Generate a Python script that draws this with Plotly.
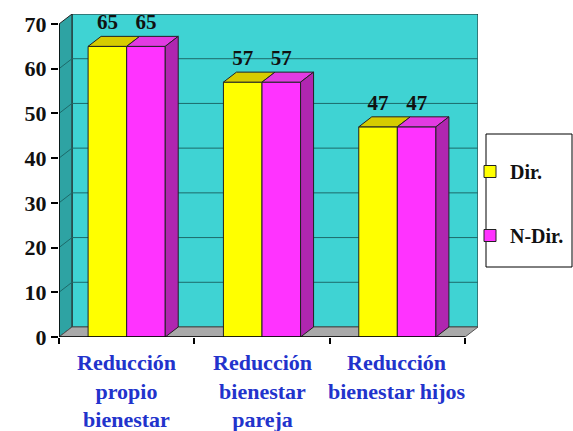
import plotly.graph_objects as go

# ---- data -------------------------------------------------------------
categories = [
    "Reducción<br>propio<br>bienestar",
    "Reducción<br>bienestar<br>pareja",
    "Reducción<br>bienestar hijos",
]
dir_values = [65, 57, 47]
ndir_values = [65, 57, 47]
y_ticks = [0, 10, 20, 30, 40, 50, 60, 70]

# ---- style ------------------------------------------------------------
SERIF = "Liberation Serif"
YELLOW, YELLOW_TOP = "#ffff00", "#d6cc00"
MAGENTA, MAGENTA_TOP, MAGENTA_SIDE = "#ff33ff", "#e23be2", "#b026b0"
WALL_BACK, WALL_SIDE, FLOOR = "#3fd3d3", "#2ea3a3", "#a9a9a9"
GRID = "#1d6a6a"
EDGE = "#222222"

BAR_W = 0.285          # width of each bar in category units
DX, DY = 0.096, 2.236  # depth offset of the 3-D box (x units, y units)
Y_MAX = max(y_ticks)

# pixel geometry of the plotting box
W, H = 573, 431
L, R, T, B = 59, 95, 14, 94
dom_w, dom_h = W - L - R, H - T - B


def px_x(p):
    return (p - L) / dom_w


def px_y(p):
    return (H - B - p) / dom_h


fig = go.Figure()

# front faces of the bars
fig.add_trace(go.Bar(
    x=list(range(len(categories))), y=dir_values, name="Dir.",
    offset=-BAR_W, width=BAR_W, marker=dict(color=YELLOW, line=dict(color=EDGE, width=1)),
    legendgroup="a", hoverinfo="skip",
))
fig.add_trace(go.Bar(
    x=list(range(len(categories))), y=ndir_values, name="N-Dir.",
    offset=0, width=BAR_W, marker=dict(color=MAGENTA, line=dict(color=EDGE, width=1)),
    legendgroup="b", hoverinfo="skip",
))


def face(xs, ys, color):
    fig.add_trace(go.Scatter(
        x=xs, y=ys, mode="lines", fill="toself", fillcolor=color,
        line=dict(color=EDGE, width=1), showlegend=False, hoverinfo="skip",
    ))


# top and side faces built from the same values
for i, (a, b) in enumerate(zip(dir_values, ndir_values)):
    x0, x1, x2 = i - BAR_W, i, i + BAR_W
    face([x0, x1, x1 + DX, x0 + DX, x0], [a, a, a + DY, a + DY, a], YELLOW_TOP)
    face([x1, x2, x2 + DX, x1 + DX, x1], [b, b, b + DY, b + DY, b], MAGENTA_TOP)
    face([x2, x2, x2 + DX, x2 + DX, x2], [0, b, b + DY, DY, 0], MAGENTA_SIDE)

# value labels
lab_x, lab_y, lab_t = [], [], []
for i, (a, b) in enumerate(zip(dir_values, ndir_values)):
    lab_x += [i - BAR_W / 2, i + BAR_W / 2]
    lab_y += [a + 5.0, b + 5.0]
    lab_t += [str(a), str(b)]
fig.add_trace(go.Scatter(
    x=lab_x, y=lab_y, text=lab_t, mode="text", textposition="middle center",
    textfont=dict(family=SERIF, size=21, color="#111111", weight="bold"),
    showlegend=False, hoverinfo="skip",
))

# ---- walls, floor and grid ---------------------------------------------
x_lo, x_hi = -0.5, len(categories) - 0.5
shapes = []
# back wall
shapes.append(dict(type="rect", xref="x", yref="y", x0=x_lo + DX, x1=x_hi + DX,
                   y0=DY, y1=Y_MAX + DY, fillcolor=WALL_BACK,
                   line=dict(color=EDGE, width=1), layer="below"))
# side wall
shapes.append(dict(type="path", xref="x", yref="y",
                   path=f"M{x_lo},0 L{x_lo + DX},{DY} L{x_lo + DX},{Y_MAX + DY} L{x_lo},{Y_MAX} Z",
                   fillcolor=WALL_SIDE, line=dict(color=EDGE, width=1), layer="below"))
# floor
shapes.append(dict(type="path", xref="x", yref="y",
                   path=f"M{x_lo},0 L{x_hi},0 L{x_hi + DX},{DY} L{x_lo + DX},{DY} Z",
                   fillcolor=FLOOR, line=dict(color="#555555", width=1), layer="below"))
# grid lines on back and side walls
for v in y_ticks[1:-1]:
    shapes.append(dict(type="line", xref="x", yref="y", x0=x_lo + DX, x1=x_hi + DX,
                       y0=v + DY, y1=v + DY, line=dict(color=GRID, width=1), layer="below"))
    shapes.append(dict(type="line", xref="x", yref="y", x0=x_lo, x1=x_lo + DX,
                       y0=v, y1=v + DY, line=dict(color=GRID, width=1), layer="below"))
# front axis lines
shapes.append(dict(type="line", xref="x", yref="y", x0=x_lo, x1=x_lo, y0=0, y1=Y_MAX,
                   line=dict(color="#000000", width=1.5)))
shapes.append(dict(type="line", xref="x", yref="y", x0=x_lo, x1=x_hi, y0=0, y1=0,
                   line=dict(color="#000000", width=1.5)))
# legend frame
shapes.append(dict(type="rect", xref="paper", yref="paper",
                   x0=px_x(486), x1=px_x(572), y0=px_y(267), y1=px_y(134),
                   line=dict(color="#000000", width=1), fillcolor="white", layer="below"))

# category labels
annotations = []
for i, c in enumerate(categories):
    annotations.append(dict(
        x=i, y=0, xref="x", yref="y", text=c, showarrow=False,
        yanchor="top", yshift=-11,
        font=dict(family=SERIF, size=22, color="#2233cc", weight="bold"),
    ))

fig.update_layout(
    width=W, height=H,
    margin=dict(l=L, r=R, t=T, b=B, autoexpand=False),
    paper_bgcolor="white", plot_bgcolor="white",
    barmode="overlay",
    showlegend=True,
    legend=dict(
        x=px_x(470), y=px_y(152), xanchor="left", yanchor="top",
        bgcolor="rgba(0,0,0,0)", borderwidth=0,
        tracegroupgap=35, traceorder="grouped",
        font=dict(family=SERIF, size=20, color="#111111", weight="bold"),
    ),
    shapes=shapes,
    annotations=annotations,
    xaxis=dict(
        range=[x_lo, x_hi + DX], showgrid=False, zeroline=False, showline=False,
        tickmode="array", tickvals=[x_lo + k for k in range(len(categories) + 1)],
        ticktext=[""] * (len(categories) + 1),
        ticks="outside", ticklen=6, tickwidth=1.5, tickcolor="#000000",
        fixedrange=True,
    ),
    yaxis=dict(
        range=[0, Y_MAX + DY], showgrid=False, zeroline=False, showline=False,
        tickmode="array", tickvals=y_ticks, ticks="outside", ticklen=7,
        tickwidth=1.5, tickcolor="#000000",
        tickfont=dict(family=SERIF, size=22, color="#111111", weight="bold"),
        fixedrange=True,
    ),
)

fig.write_html("out.html")
